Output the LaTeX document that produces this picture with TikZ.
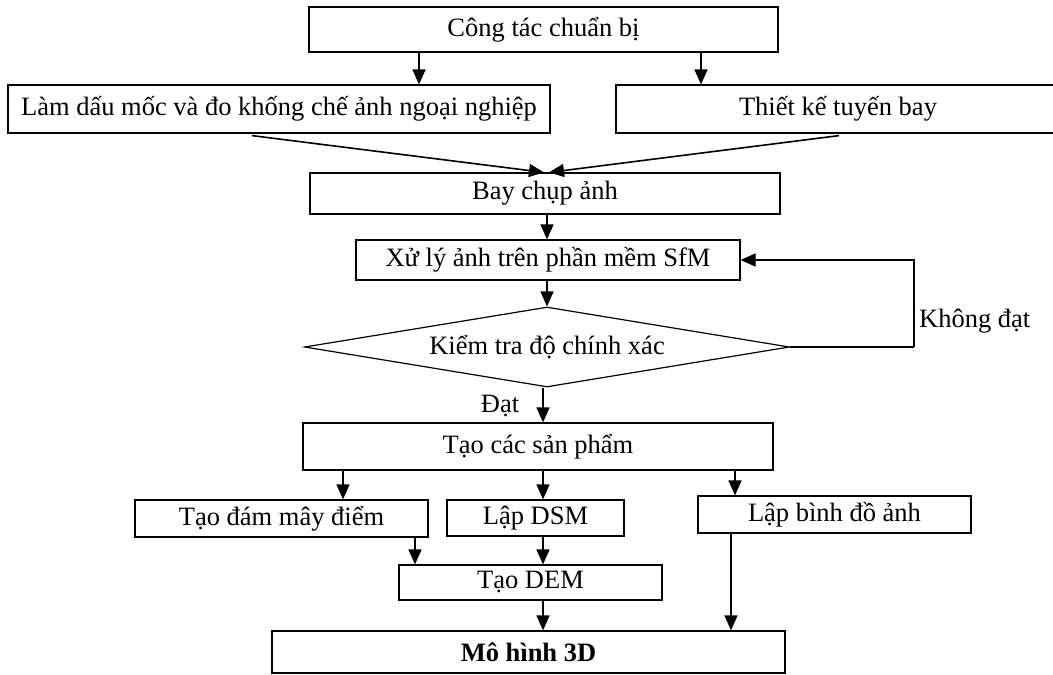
\documentclass[tikz,border=0pt]{standalone}
\usepackage{fontspec}
\setmainfont{Liberation Serif}
\usetikzlibrary{arrows.meta,shapes.geometric}
\begin{document}
\begin{tikzpicture}[x=1pt,y=-1pt,
  box/.style={draw, line width=1.2pt, inner sep=0pt, font=\fontsize{26.5pt}{30pt}\selectfont},
  dia/.style={draw, diamond, line width=1.2pt, inner sep=0pt, aspect=6, font=\fontsize{26.5pt}{30pt}\selectfont},
  lbl/.style={inner sep=0pt, font=\fontsize{26.5pt}{30pt}\selectfont},
  arr/.style={line width=1.6pt, -{Triangle[length=15pt,width=13pt]}}]
\useasboundingbox (0,0) rectangle (1053,675);
% boxes
\node[box, minimum width=469pt, minimum height=45pt] (cong) at (543.5,29.5) {Công tác chuẩn bị};
\node[box, minimum width=542pt, minimum height=48pt] (lam) at (279,109) {Làm dấu mốc và đo khống chế ảnh ngoại nghiệp};
\node[box, minimum width=444pt, minimum height=48pt] (thiet) at (838,109) {Thiết kế tuyến bay};
\node[box, minimum width=470pt, minimum height=41pt] (bay) at (545,193.5) {Bay chụp ảnh};
\node[box, minimum width=384pt, minimum height=40pt] (xuly) at (548,260) {Xử lý ảnh trên phần mềm SfM};
\node[dia, minimum width=485pt, minimum height=80pt] (kiem) at (547,347) {Kiểm tra độ chính xác};
\node[box, minimum width=470pt, minimum height=47pt] (taocac) at (538,446.5) {Tạo các sản phẩm};
\node[box, minimum width=293pt, minimum height=37pt] (may) at (281.5,518.5) {Tạo đám mây điểm};
\node[box, minimum width=177pt, minimum height=36pt] (dsm) at (535.5,518) {Lập DSM};
\node[box, minimum width=273pt, minimum height=37pt] (binhdo) at (834.5,514.5) {Lập bình đồ ảnh};
\node[box, minimum width=263pt, minimum height=35pt] (dem) at (530.5,582.5) {Tạo DEM};
\node[box, minimum width=513pt, minimum height=42pt] (mohinh) at (528.5,652) {\bfseries Mô hình 3D};
% labels
\node[lbl, anchor=west] (khong) at (919,321) {Không đạt};
\node[lbl] (dat) at (500,406) {Đạt};
% x positions of connectors
\coordinate (x419) at (419,0);
\coordinate (x701) at (701,0);
\coordinate (x252) at (252,0);
\coordinate (x839) at (839,0);
\coordinate (x544) at (544,0);
\coordinate (x549) at (549,0);
\coordinate (x547) at (547,0);
\coordinate (x543) at (543,0);
\coordinate (x343) at (343,0);
\coordinate (x735) at (735,0);
\coordinate (x415) at (415,0);
\coordinate (x731) at (731,0);
\coordinate (x914) at (914,0);
% connectors
\draw[arr] (cong.south -| x419) -- (lam.north -| x419);
\draw[arr] (cong.south -| x701) -- (thiet.north -| x701);
\draw[arr] ([yshift=-2pt]lam.south -| x252) -- (bay.north -| x544);
\draw[arr] ([yshift=-2pt]thiet.south -| x839) -- (bay.north -| x549);
\draw[arr] (bay.south -| x547) -- (xuly.north -| x547);
\draw[arr] (xuly.south -| x547) -- (kiem.north);
\draw[line width=1.6pt] (kiem.east) -- (kiem.east -| x914) coordinate (fb);
\draw[arr] (fb) |- (xuly.east);
\draw[arr] (kiem.south -| x543) -- (taocac.north -| x543);
\draw[arr] (taocac.south -| x343) -- (may.north -| x343);
\draw[arr] (taocac.south -| x543) -- (dsm.north -| x543);
\draw[arr] (taocac.south -| x735) -- (binhdo.north -| x735);
\draw[arr] (may.south -| x415) -- (dem.north -| x415);
\draw[arr] (dsm.south -| x543) -- (dem.north -| x543);
\draw[arr] (dem.south -| x543) -- (mohinh.north -| x543);
\draw[arr] (binhdo.south -| x731) -- (mohinh.north -| x731);
\end{tikzpicture}
\end{document}
